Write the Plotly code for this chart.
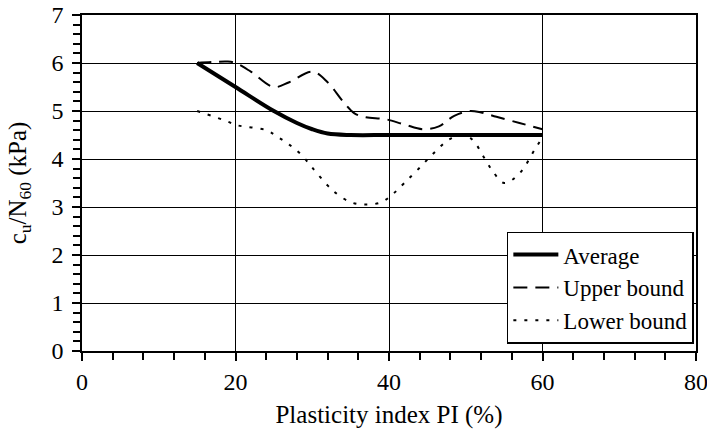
import plotly.graph_objects as go

avg_x = [15, 20, 25, 28, 30, 32, 35, 40, 50, 60]
avg_y = [6.0, 5.5, 5.0, 4.75, 4.62, 4.53, 4.5, 4.5, 4.5, 4.5]

up_x = [15, 17, 19, 20, 22, 25, 27, 30, 32, 34, 35.5, 37, 39.5, 42, 44.5, 46.5, 48.5, 50.5, 52, 54, 57, 60]
up_y = [6.0, 6.02, 6.03, 6.0, 5.82, 5.5, 5.6, 5.82, 5.6, 5.2, 4.95, 4.87, 4.83, 4.72, 4.62, 4.68, 4.9, 5.0, 4.97, 4.88, 4.75, 4.62]

lo_x = [15, 19, 20, 24, 25.5, 27, 28.5, 30, 32, 33, 35, 37, 39, 40.5, 42, 44, 46, 48, 50, 51, 52.5, 53.5, 55, 57, 59, 60]
lo_y = [5.0, 4.78, 4.71, 4.6, 4.46, 4.3, 4.1, 3.82, 3.45, 3.3, 3.1, 3.05, 3.1, 3.27, 3.5, 3.82, 4.15, 4.42, 4.48, 4.38, 4.0, 3.75, 3.5, 3.7, 4.2, 4.45]

names = ["Average", "Upper bound", "Lower bound"]

FONT = "'Liberation Serif', 'Times New Roman', Times, serif"

fig = go.Figure()
fig.add_trace(go.Scatter(x=avg_x, y=avg_y, mode="lines", name=names[0], legendgroup="a",
                         line=dict(color="black", width=4, shape="spline")))
fig.add_trace(go.Scatter(x=up_x, y=up_y, mode="lines", name=names[1], legendgroup="b",
                         line=dict(color="black", width=2, shape="spline", dash="14px,8px")))
fig.add_trace(go.Scatter(x=lo_x, y=lo_y, mode="lines", name=names[2], legendgroup="c",
                         line=dict(color="black", width=2, shape="spline", dash="3px,8px")))

axis_common = dict(
    showgrid=True, gridcolor="black", gridwidth=1,
    showline=True, linecolor="black", linewidth=1.5, mirror=True,
    ticks="outside", ticklen=8, tickwidth=1.5, tickcolor="black",
    zeroline=False, ticklabeloverflow="allow",
    tickfont=dict(family=FONT, size=24, color="black"),
)

fig.update_xaxes(range=[0, 80], dtick=20, tick0=0, automargin=False,
                 minor=dict(dtick=4, ticks="outside", ticklen=7, tickwidth=1.5, tickcolor="black", showgrid=False),
                 title=dict(text="Plasticity index PI (%)", font=dict(family=FONT, size=25, color="black"), standoff=12),
                 **axis_common)
fig.update_yaxes(range=[0, 7], dtick=1, tick0=0, automargin="left", ticklabelstandoff=4,
                 minor=dict(dtick=0.2, ticks="outside", ticklen=7, tickwidth=1.5, tickcolor="black", showgrid=False),
                 title=dict(text="c<sub>u</sub>/N<sub>60</sub> (kPa)", font=dict(family=FONT, size=25, color="black"), standoff=18),
                 **axis_common)

fig.update_layout(
    width=707, height=430,
    margin=dict(l=82, r=11, t=15, b=79),
    paper_bgcolor="white", plot_bgcolor="white",
    font=dict(family=FONT, color="black"),
    legend=dict(x=0.9965, y=0.022, xanchor="right", yanchor="bottom",
                bgcolor="white", bordercolor="black", borderwidth=1.5,
                font=dict(family=FONT, size=23, color="black"),
                traceorder="grouped", tracegroupgap=0, itemwidth=45),
    showlegend=True,
)

fig.write_html("out.html")
